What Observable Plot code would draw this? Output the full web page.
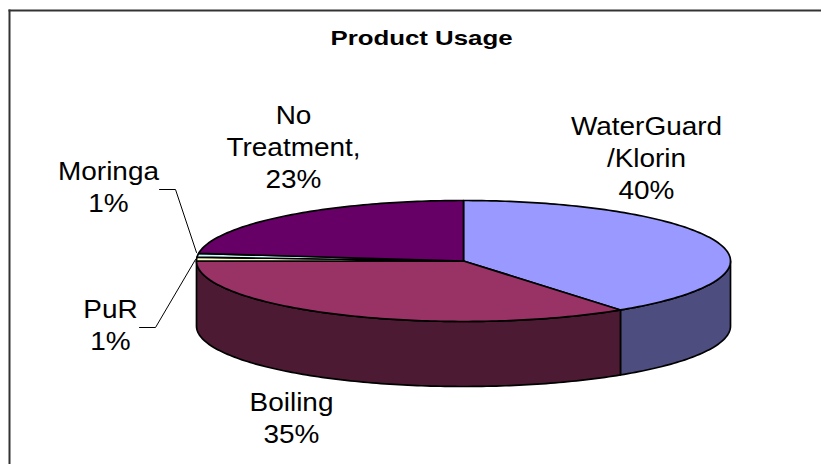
<!DOCTYPE html>
<html>
<head>
<meta charset="utf-8">
<script src="https://cdn.jsdelivr.net/npm/d3@7"></script>
<script src="https://cdn.jsdelivr.net/npm/@observablehq/plot@0.6"></script>
<style>
html,body{margin:0;padding:0;background:#fff;overflow:hidden}
svg{display:block}
</style>
</head>
<body>
<div id="chart"></div>
<script>
const titleText = "Product Usage";
const categories = ["WaterGuard /Klorin", "Boiling", "PuR", "Moringa", "No Treatment"];
const shares = [40, 35, 1, 1, 23];
const labelTexts = ["WaterGuard\n/Klorin\n40%", "Boiling\n35%", "PuR\n1%", "Moringa\n1%", "No\nTreatment,\n23%"];
const topColors = ["#9999FF", "#993366", "#FFFFCC", "#CCFFFF", "#660066"];
const sideColors = ["#4D4D80", "#4D1A33", "#80805F", "#668080", "#330033"];

// Layout of the tilted pie, in pixels
const cx = 463, rx = 267, topY = 200, botY = 321;
const cy = (topY + botY) / 2, ry = (botY - topY) / 2;
const depth = 65 / ry;
const ux = px => (px - cx) / rx, uy = py => (py - cy) / ry;
const textStretch = 1.1;

const total = d3.sum(shares);
let acc = 0;
const slices = categories.map((name, i) => {
  const a0 = acc / total * 360;
  acc += shares[i];
  return {name, i, a0, a1: acc / total * 360};
});
const rad = a => a * Math.PI / 180;
const rim = (a, drop = 0) => ({x: Math.sin(rad(a)), y: -Math.cos(rad(a)) + drop});
const arcAngles = (a0, a1) => {
  const out = [a0];
  for (let a = Math.ceil(a0 + 1e-6); a < a1; a++) out.push(a);
  out.push(a1);
  return out;
};

const topRows = slices.flatMap(s => [
  {x: 0, y: 0},
  ...arcAngles(s.a0, s.a1).map(a => rim(a))
].map(p => ({...p, name: s.name, color: topColors[s.i]})));

// Only the front half of the rim shows a wall (90 deg to 270 deg)
const sideRows = slices.filter(s => s.a1 > 90 && s.a0 < 270).flatMap(s => {
  const as = arcAngles(Math.max(s.a0, 90), Math.min(s.a1, 270));
  return [
    ...as.map(a => rim(a)),
    ...as.slice().reverse().map(a => rim(a, depth))
  ].map(p => ({...p, name: s.name, color: sideColors[s.i]}));
});

const labels = [
  {t: labelTexts[0], x: ux(646), y: uy(156)},
  {t: labelTexts[1], x: ux(291), y: uy(416)},
  {t: labelTexts[2], x: ux(110), y: uy(323)},
  {t: labelTexts[3], x: ux(108), y: uy(185)},
  {t: labelTexts[4], x: ux(293), y: uy(145)}
];
const leaders = [
  {g: "Moringa", x: ux(159), y: uy(189)},
  {g: "Moringa", x: ux(175), y: uy(189)},
  {g: "Moringa", x: ux(196), y: uy(252)},
  {g: "PuR", x: ux(139), y: uy(327)},
  {g: "PuR", x: ux(155), y: uy(327)},
  {g: "PuR", x: ux(195), y: uy(259)}
];

const chart = Plot.plot({
  width: 821, height: 464,
  marginLeft: 9, marginTop: 10, marginRight: 0, marginBottom: 0,
  x: {domain: [-1, 1], range: [cx - rx, cx + rx], axis: null},
  y: {domain: [-1, 1], range: [topY, botY], axis: null},
  marks: [
    Plot.frame({anchor: "left", stroke: "#333", strokeWidth: 2}),
    Plot.frame({anchor: "top", stroke: "#333", strokeWidth: 2}),
    Plot.line(sideRows, {x: "x", y: "y", z: "name", fill: "color", stroke: "#000", strokeWidth: 1.7, curve: "linear-closed"}),
    Plot.line(topRows, {x: "x", y: "y", z: "name", fill: "color", stroke: "#000", strokeWidth: 1.7, curve: "linear-closed"}),
    Plot.line(leaders, {x: "x", y: "y", z: "g", stroke: "#000", strokeWidth: 1}),
    Plot.text(labels, {x: "x", y: "y", text: "t", fontSize: 25.4, lineHeight: 1.26, fontFamily: "Liberation Sans", fill: "#000", stroke: null}),
    Plot.text([titleText], {x: () => ux(421), y: () => uy(38), fontSize: 21, fontWeight: "bold", fontFamily: "Liberation Sans", fill: "#000"})
  ]
});
chart.querySelectorAll("text").forEach(t => {
  const isTitle = t.textContent === titleText;
  t.setAttribute("transform", (t.getAttribute("transform") || "") + ` scale(${isTitle ? 1.23 : textStretch},1)`);
});
document.getElementById("chart").append(chart);
</script>
</body>
</html>
